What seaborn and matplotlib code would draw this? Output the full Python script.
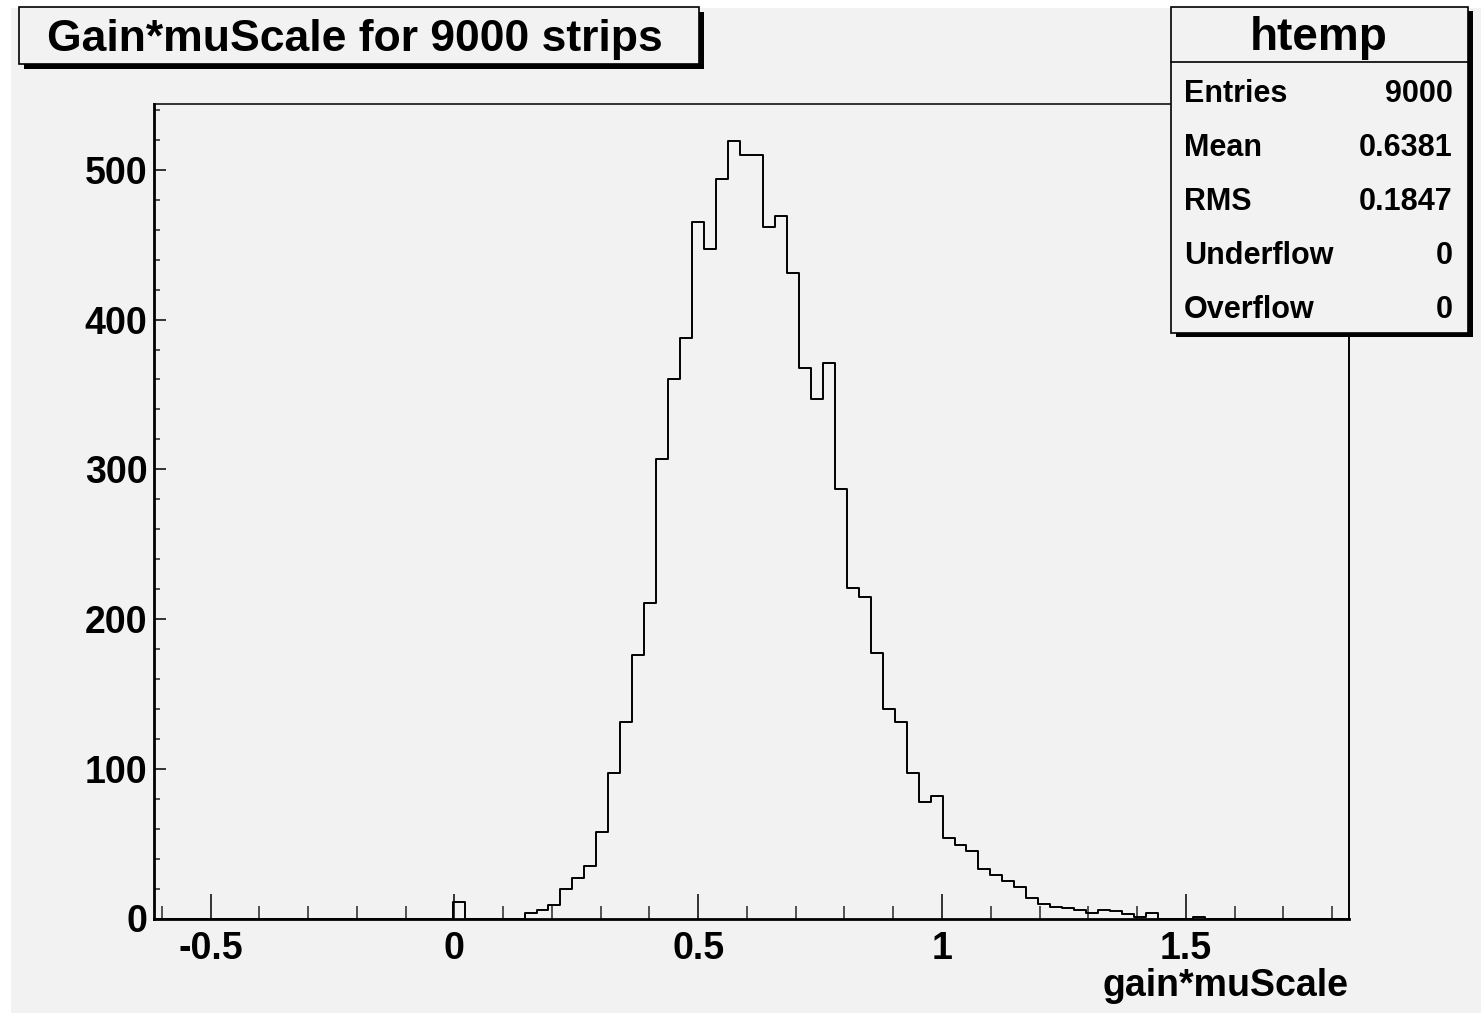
"""ROOT-style histogram of gain*muScale for 9000 strips."""

import matplotlib

matplotlib.use("Agg")
import matplotlib.pyplot as plt
from matplotlib.patches import Rectangle
from matplotlib.ticker import MultipleLocator
import numpy as np
import pandas as pd
import seaborn as sns

# histogram binning
X_MIN = -0.6154
X_MAX = 1.834
N_BINS = 100
FIRST_BIN = 25  # index of the first bin listed in COUNTS
COUNTS = [
    11, 0, 0, 0, 0, 0, 4, 6, 9, 20,
    27, 35, 58, 97, 131, 176, 211, 307, 360, 388,
    465, 447, 494, 519, 510, 510, 462, 469, 431, 368,
    347, 371, 287, 221, 215, 177, 140, 131, 97, 78,
    82, 54, 49, 45, 33, 29, 25, 21, 14, 10,
    8, 7, 6, 4, 6, 5, 3, 1, 4, 0,
    0, 0, 1,
]
Y_MAX = 544

TITLE = "Gain*muScale for 9000 strips"
X_LABEL = "gain*muScale"
X_TICKS = [-0.5, 0, 0.5, 1, 1.5]
X_TICK_LABELS = ["-0.5", "0", "0.5", "1", "1.5"]
Y_TICKS = [0, 100, 200, 300, 400, 500]

STATS_NAME = "htemp"
STATS_LABELS = ["Entries", "Mean", "RMS", "Underflow", "Overflow"]
STATS_VALUES = ["9000", "0.6381", "0.1847", "0", "0"]

W, H = 1481, 1014
BG = "#f2f2f2"

sns.set_theme(style="ticks")
plt.rcParams["font.family"] = ["Liberation Sans", "DejaVu Sans"]
plt.rcParams["font.weight"] = "bold"
plt.rcParams["text.color"] = "black"
plt.rcParams["axes.labelcolor"] = "black"


def fx(px):
    return px / W


def fy(py):
    return 1 - py / H


def draw_box(fig, x0, y0, x1, y1, shadow=4.5):
    """Box with a drop shadow on the right and bottom, pixel coords."""
    fig.add_artist(Rectangle((fx(x0 + shadow), fy(y1 + shadow)), fx(x1 - x0), (y1 - y0) / H,
                             transform=fig.transFigure, facecolor="black", edgecolor="none",
                             zorder=5))
    fig.add_artist(Rectangle((fx(x0), fy(y1)), fx(x1 - x0), (y1 - y0) / H,
                             transform=fig.transFigure, facecolor=BG, edgecolor="black",
                             linewidth=1.2, zorder=6))


fig = plt.figure(figsize=(W / 100, H / 100), dpi=100, facecolor="white")
fig.patches.append(Rectangle((fx(11), fy(1013)), fx(W - 11), (1013 - 8) / H,
                             transform=fig.transFigure, facecolor=BG, edgecolor="none", zorder=0))

ax = fig.add_axes([fx(154.3), fy(918.5), fx(1348.7 - 154.3), (918.5 - 104) / H])
ax.set_facecolor(BG)
ax.set_zorder(3)

edges = np.linspace(X_MIN, X_MAX, N_BINS + 1)
counts = np.zeros(N_BINS)
counts[FIRST_BIN:FIRST_BIN + len(COUNTS)] = COUNTS
hist_df = pd.DataFrame({"value": (edges[:-1] + edges[1:]) / 2, "count": counts})

sns.histplot(data=hist_df, x="value", weights="count", bins=N_BINS,
             binrange=(X_MIN, X_MAX), element="step", fill=False, color="black",
             linewidth=1.4, ax=ax)

ax.set_xlim(X_MIN, X_MAX)
ax.set_ylim(0, Y_MAX)
ax.set_ylabel("")

ax.set_xticks(X_TICKS)
ax.set_xticklabels(X_TICK_LABELS)
ax.xaxis.set_minor_locator(MultipleLocator(0.1))
ax.set_yticks(Y_TICKS)
ax.yaxis.set_minor_locator(MultipleLocator(20))
ax.tick_params(axis="x", which="major", direction="in", length=18, width=1.1, pad=9,
               labelsize=27, colors="black")
ax.tick_params(axis="x", which="minor", direction="in", length=9.4, width=1.1)
ax.tick_params(axis="y", which="major", direction="in", length=8.6, width=1.1, pad=5,
               labelsize=27, colors="black")
ax.tick_params(axis="y", which="minor", direction="in", length=4.3, width=1.1)
for lab in ax.get_xticklabels() + ax.get_yticklabels():
    lab.set_fontweight("bold")

ax.set_xlabel(X_LABEL, fontsize=27, fontweight="bold", loc="right", color="black")
ax.xaxis.set_label_coords(1.0, (918.5 - 986) / (918.5 - 104))
ax.xaxis.label.set_va("center")

for side, lw in {"left": 2.0, "bottom": 2.0, "top": 1.1, "right": 1.4}.items():
    ax.spines[side].set_visible(True)
    ax.spines[side].set_color("black")
    ax.spines[side].set_linewidth(lw)

# title box
draw_box(fig, 19, 7, 699, 64)
fig.text(fx(47), fy(39.5), TITLE, fontsize=32, fontweight="bold", ha="left", va="center",
         color="black", zorder=8)

# stats box
draw_box(fig, 1171, 7, 1468, 332.7)
fig.add_artist(plt.Line2D([fx(1171), fx(1468)], [fy(62.3), fy(62.3)],
                          transform=fig.transFigure, color="black", linewidth=1.2, zorder=7))
fig.text(fx(1319), fy(38.5), STATS_NAME, fontsize=33, fontweight="bold", ha="center",
         va="center", color="black", zorder=8)
for i, (lab, val) in enumerate(zip(STATS_LABELS, STATS_VALUES)):
    yc = 94.5 + i * 54
    fig.text(fx(1184), fy(yc), lab, fontsize=22, fontweight="bold", ha="left", va="center",
             color="black", zorder=8)
    fig.text(fx(1453), fy(yc), val, fontsize=22, fontweight="bold", ha="right", va="center",
             color="black", zorder=8)

fig.savefig("out.png", dpi=100, facecolor="white")
